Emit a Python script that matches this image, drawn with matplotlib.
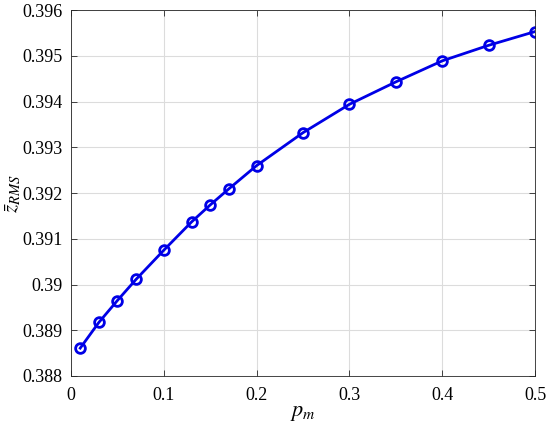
import matplotlib
matplotlib.use('Agg')
import matplotlib.pyplot as plt

# data
p_m = [0.01, 0.03, 0.05, 0.07, 0.1, 0.13, 0.15, 0.17, 0.2, 0.25, 0.3, 0.35, 0.4, 0.45, 0.5]
z_rms = [0.38861, 0.38917, 0.38965, 0.39011, 0.39075, 0.39137, 0.39174, 0.39209,
         0.39260, 0.39332, 0.39394, 0.39443, 0.39489, 0.39523, 0.39553]
x_ticks = [0, 0.1, 0.2, 0.3, 0.4, 0.5]
x_labels = ['0', '0.1', '0.2', '0.3', '0.4', '0.5']
y_ticks = [0.388, 0.389, 0.39, 0.391, 0.392, 0.393, 0.394, 0.395, 0.396]
y_labels = ['0.388', '0.389', '0.39', '0.391', '0.392', '0.393', '0.394', '0.395', '0.396']

plt.rcParams['font.family'] = ['Liberation Serif', 'DejaVu Serif']
plt.rcParams['mathtext.fontset'] = 'stix'

fig = plt.figure(figsize=(5.5, 4.28), dpi=100)
ax = fig.add_axes([0.129, 0.1215, 0.844, 0.855])

ax.plot(p_m, z_rms, color='#0000e6', linewidth=2, marker='o', markersize=7,
        markerfacecolor='none', markeredgewidth=2)

ax.set_xlim(0, 0.5)
ax.set_ylim(0.388, 0.396)
ax.set_xticks(x_ticks)
ax.set_xticklabels(x_labels)
ax.set_yticks(y_ticks)
ax.set_yticklabels(y_labels)
ax.tick_params(direction='in', top=True, right=True, labelsize=13, length=4,
               width=0.6, colors='#262626', labelcolor='black')
ax.tick_params(axis='x', pad=8)
ax.tick_params(axis='y', pad=6)
ax.grid(True, color='#dcdcdc', linewidth=0.8)
ax.set_axisbelow(True)
for s in ax.spines.values():
    s.set_color('#262626')
    s.set_linewidth(0.6)

ax.set_xlabel(r'$p_m$', fontsize=16, labelpad=0)
ax.set_ylabel(r'$\bar{z}_{RMS}$', fontsize=15)
ax.yaxis.set_label_coords(-0.103, 0.5)

fig.savefig('out.png', dpi=100)
